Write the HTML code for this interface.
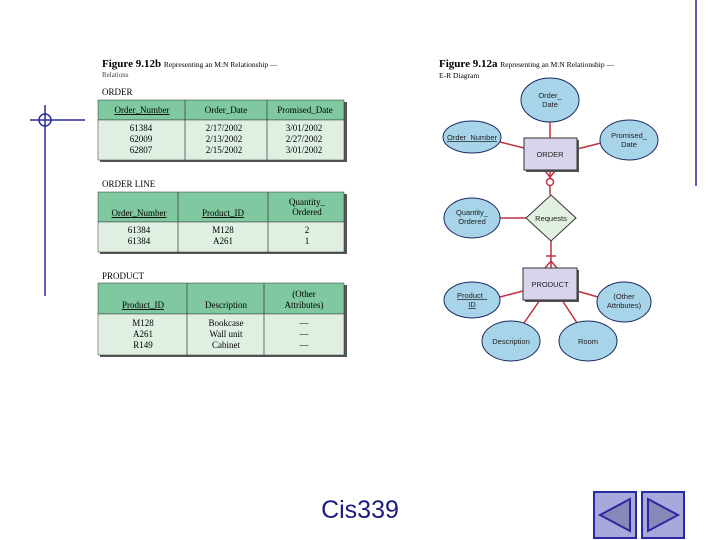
<!DOCTYPE html><html><head><meta charset="utf-8"><style>body{margin:0;background:#fff}svg{display:block}</style></head><body>
<svg width="720" height="540" xmlns="http://www.w3.org/2000/svg" font-family="Liberation Serif, serif">
<line x1="45" y1="105" x2="45" y2="296" stroke="#2a2aa0" stroke-width="1.5"/>
<line x1="30" y1="120" x2="85" y2="120" stroke="#2a2aa0" stroke-width="1.5"/>
<circle cx="45" cy="120" r="6" fill="none" stroke="#2a2aa0" stroke-width="1.5"/>
<line x1="696" y1="0" x2="696" y2="186" stroke="#2a2aa0" stroke-width="1.5"/>
<text x="102" y="67" font-size="11" font-weight="bold">Figure 9.12b <tspan font-weight="normal" font-size="7.5">Representing an M:N Relationship —</tspan></text>
<text x="102" y="77" font-size="7" fill="#444">Relations</text>
<text x="102" y="95" font-size="9">ORDER</text>
<g font-size="9" text-anchor="middle">
<rect x="100" y="102" width="247" height="60" fill="#555"/>
<rect x="98" y="100" width="246" height="20" fill="#7fc8a0" stroke="#333" stroke-width="0.5"/>
<rect x="98" y="120" width="246" height="40" fill="#dff0e3" stroke="#333" stroke-width="0.5"/>
<line x1="185" y1="100" x2="185" y2="160" stroke="#333" stroke-width="0.7"/><line x1="267" y1="100" x2="267" y2="160" stroke="#333" stroke-width="0.7"/>
<text x="142" y="113" text-decoration="underline">Order_Number</text><text x="226" y="113">Order_Date</text><text x="305" y="113">Promised_Date</text>
<text x="141" y="131">61384</text><text x="141" y="142">62009</text><text x="141" y="153">62807</text>
<text x="224" y="131">2/17/2002</text><text x="224" y="142">2/13/2002</text><text x="224" y="153">2/15/2002</text>
<text x="304" y="131">3/01/2002</text><text x="304" y="142">2/27/2002</text><text x="304" y="153">3/01/2002</text>
</g>
<text x="102" y="187" font-size="9">ORDER LINE</text>
<g font-size="9" text-anchor="middle">
<rect x="100" y="194" width="247" height="60" fill="#555"/>
<rect x="98" y="192" width="246" height="30" fill="#7fc8a0" stroke="#333" stroke-width="0.5"/>
<rect x="98" y="222" width="246" height="30" fill="#dff0e3" stroke="#333" stroke-width="0.5"/>
<line x1="178" y1="192" x2="178" y2="252" stroke="#333" stroke-width="0.7"/><line x1="268" y1="192" x2="268" y2="252" stroke="#333" stroke-width="0.7"/>
<text x="139" y="216" text-decoration="underline">Order_Number</text><text x="223" y="216" text-decoration="underline">Product_ID</text>
<text x="307" y="205">Quantity_</text><text x="307" y="215">Ordered</text>
<text x="139" y="233">61384</text><text x="139" y="244">61384</text><text x="223" y="233">M128</text><text x="223" y="244">A261</text>
<text x="307" y="233">2</text><text x="307" y="244">1</text>
</g>
<text x="102" y="279" font-size="9">PRODUCT</text>
<g font-size="9" text-anchor="middle">
<rect x="100" y="285" width="247" height="72" fill="#555"/>
<rect x="98" y="283" width="246" height="31" fill="#7fc8a0" stroke="#333" stroke-width="0.5"/>
<rect x="98" y="314" width="246" height="41" fill="#dff0e3" stroke="#333" stroke-width="0.5"/>
<line x1="187" y1="283" x2="187" y2="355" stroke="#333" stroke-width="0.7"/><line x1="264" y1="283" x2="264" y2="355" stroke="#333" stroke-width="0.7"/>
<text x="143" y="308" text-decoration="underline">Product_ID</text><text x="226" y="308">Description</text>
<text x="304" y="297">(Other</text><text x="304" y="308">Attributes)</text>
<text x="143" y="326">M128</text><text x="143" y="337">A261</text><text x="143" y="348">R149</text>
<text x="226" y="326">Bookcase</text><text x="226" y="337">Wall unit</text><text x="226" y="348">Cabinet</text>
<text x="304" y="326">—</text><text x="304" y="337">—</text><text x="304" y="348">—</text>
</g>
<text x="439" y="67" font-size="11" font-weight="bold">Figure 9.12a <tspan font-weight="normal" font-size="7.5">Representing an M:N Relationship —</tspan></text>
<text x="439" y="78" font-size="7.5">E-R Diagram</text>
<g stroke="#c03040" stroke-width="1.5" fill="none">
<line x1="550" y1="122" x2="550" y2="138"/><line x1="500" y1="142" x2="524" y2="148"/><line x1="577" y1="149" x2="601" y2="143"/>
<line x1="550" y1="170" x2="550" y2="195"/><path d="M544 170 L550 177 L556 170"/><circle cx="550" cy="182" r="3.5" fill="#fff"/>
<line x1="500" y1="218" x2="526" y2="218"/>
<line x1="551" y1="241" x2="551" y2="268"/><line x1="546" y1="256" x2="556" y2="256"/><path d="M545 268 L551 261 L557 268"/>
<line x1="500" y1="297" x2="523" y2="291"/><line x1="577" y1="291" x2="598" y2="297"/>
<line x1="540" y1="300" x2="524" y2="323"/><line x1="562" y1="300" x2="577" y2="323"/>
</g>
<g fill="#a8d4ea" stroke="#1a2a60" stroke-width="1">
<ellipse cx="550" cy="100" rx="29" ry="22"/><ellipse cx="472" cy="137" rx="29" ry="16"/><ellipse cx="629" cy="140" rx="29" ry="20"/>
<ellipse cx="472" cy="218" rx="28" ry="20"/><ellipse cx="472" cy="300" rx="28" ry="18"/><ellipse cx="624" cy="302" rx="27" ry="20"/>
<ellipse cx="511" cy="341" rx="29" ry="20"/><ellipse cx="588" cy="341" rx="29" ry="20"/>
</g>
<rect x="526" y="140" width="53" height="32" fill="#555"/><rect x="524" y="138" width="53" height="32" fill="#d8d4ec" stroke="#333"/>
<rect x="525" y="270" width="54" height="32" fill="#555"/><rect x="523" y="268" width="54" height="32" fill="#d8d4ec" stroke="#333"/>
<polygon points="551,195 576,218 551,241 526,218" fill="#e2f0e2" stroke="#333"/>
<g font-family="Liberation Sans, sans-serif" font-size="7.5" text-anchor="middle" fill="#222">
<text x="550" y="98">Order_</text><text x="550" y="107">Date</text>
<text x="472" y="140" text-decoration="underline">Order_Number</text>
<text x="629" y="138">Promised_</text><text x="629" y="147">Date</text>
<text x="550" y="157">ORDER</text><text x="551" y="221">Requests</text>
<text x="472" y="215">Quantity_</text><text x="472" y="224">Ordered</text>
<text x="550" y="287">PRODUCT</text>
<text x="472" y="298" text-decoration="underline">Product_</text><text x="472" y="307" text-decoration="underline">ID</text>
<text x="624" y="299">(Other</text><text x="624" y="308">Attributes)</text>
<text x="511" y="344">Description</text><text x="588" y="344">Room</text>
</g>
<text x="360" y="518" font-family="Liberation Sans, sans-serif" font-size="25" text-anchor="middle" fill="#1a1a80">Cis339</text>
<g stroke="#2a2aa0" stroke-width="2">
<rect x="594" y="492" width="42" height="46" fill="#a8a8dc"/><rect x="642" y="492" width="42" height="46" fill="#a8a8dc"/>
<polygon points="600,515 630,499 630,531" fill="#8888bb"/><polygon points="648,499 678,515 648,531" fill="#8888bb"/>
</g>
</svg></body></html>
